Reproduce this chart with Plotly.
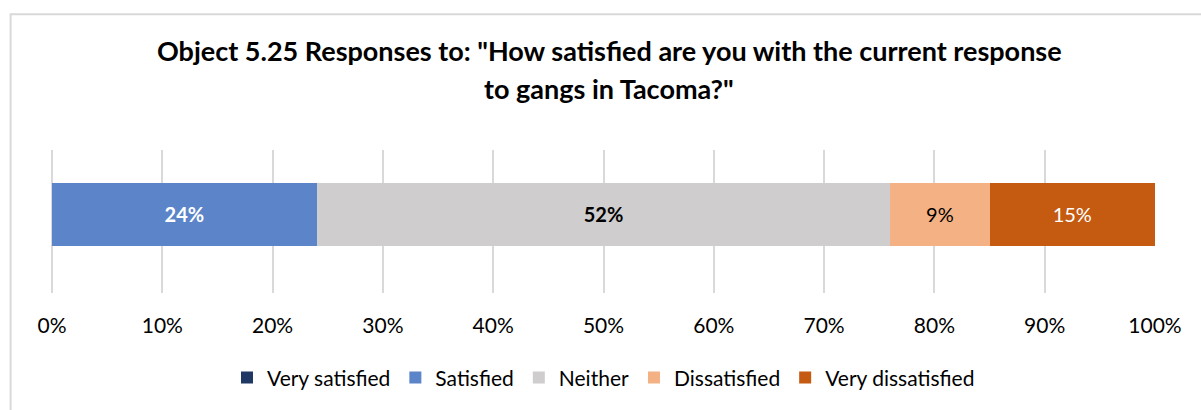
import plotly.graph_objects as go

# Response categories and their shares (percent)
categories = ["Very satisfied", "Satisfied", "Neither", "Dissatisfied", "Very dissatisfied"]
values = [0, 24, 52, 9, 15]
colors = ["#203864", "#5B84C9", "#CFCDCD", "#F4B183", "#C55A11"]
label_colors = ["white", "white", "black", "black", "white"]
label_bold = [False, True, True, False, False]
tick_vals = [0, 10, 20, 30, 40, 50, 60, 70, 80, 90, 100]
tick_text = [f"{v}%" for v in tick_vals]
title_lines = [
    "Object 5.25 Responses to: \"How satisfied are you with the current response",
    "to gangs in Tacoma?\"",
]

FONT = "Lato, 'Open Sans', sans-serif"

fig = go.Figure()
for name, val, col, lc, bold in zip(categories, values, colors, label_colors, label_bold):
    if val > 0:
        txt = f"{val}%"
        if bold:
            txt = f"<b>{txt}</b>"
    else:
        txt = ""
    fig.add_trace(go.Bar(
        y=[""], x=[val], name=name, orientation="h",
        marker=dict(color=col, line=dict(width=0)),
        text=[txt], textposition="inside", insidetextanchor="middle",
        textfont=dict(color=lc, size=20, family=FONT),
        width=0.44, hoverinfo="skip",
    ))

fig.update_layout(
    barmode="stack",
    width=1201, height=410,
    margin=dict(l=52, r=46, t=150, b=117),
    paper_bgcolor="white", plot_bgcolor="white",
    font=dict(family=FONT, color="#000000"),
    xaxis=dict(
        range=[0, 100], tickvals=tick_vals, ticktext=tick_text,
        showgrid=True, gridcolor="#D9D9D9", gridwidth=1.5,
        zeroline=True, zerolinecolor="#D9D9D9", zerolinewidth=1.5,
        showline=False, ticks="",
        tickfont=dict(size=21, family=FONT, color="#000000"),
        ticklabelstandoff=18,
    ),
    yaxis=dict(range=[-0.55, 0.45], showticklabels=False, showgrid=False,
               zeroline=False, showline=False),
    legend=dict(
        orientation="h", x=0.5, xanchor="center", y=-0.45, yanchor="top",
        font=dict(size=21, family=FONT, color="#000000"),
        traceorder="normal",
    ),
    showlegend=True,
)

# Two-line bold title
for i, line in enumerate(title_lines):
    fig.add_annotation(
        text=f"<b>{line}</b>", xref="paper", yref="paper",
        x=0.505, y=1.0, yshift=100 - 38 * i, showarrow=False,
        xanchor="center", yanchor="middle",
        font=dict(size=27, family=FONT, color="#000000"),
    )

# Chart frame
fig.add_shape(type="rect", xref="paper", yref="paper",
              x0=-0.0375, x1=1.2, y0=-1.5, y1=1.95,
              line=dict(color="#D9D9D9", width=2), fillcolor="rgba(0,0,0,0)",
              layer="below")

fig.write_html("out.html")
